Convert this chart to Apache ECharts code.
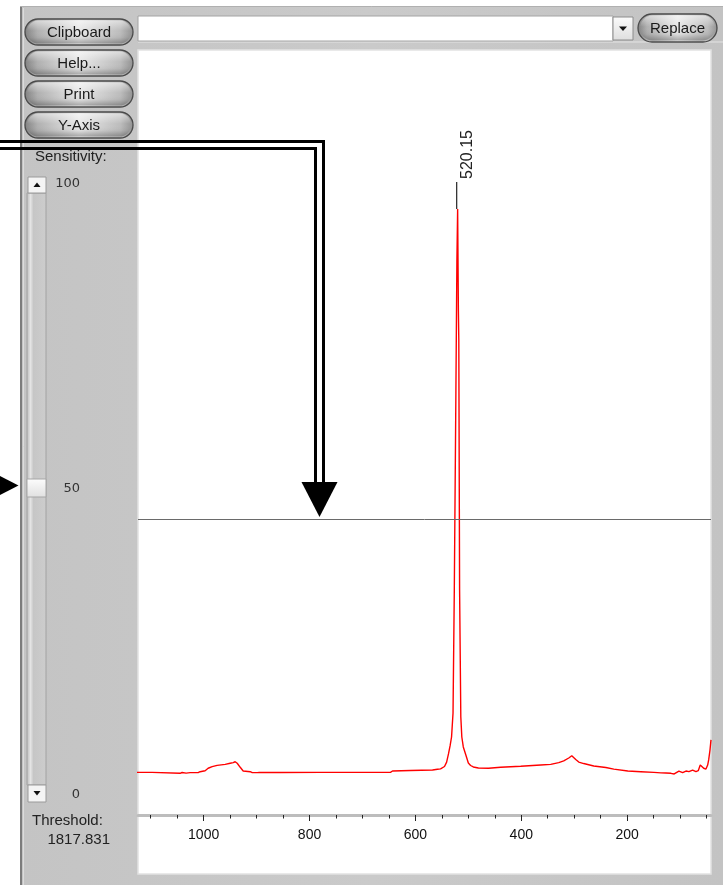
<!DOCTYPE html>
<html><head><meta charset="utf-8">
<script src="https://cdn.jsdelivr.net/npm/echarts@6/dist/echarts.min.js"></script>
<style>html,body{margin:0;padding:0;background:#fff;}#c{width:723px;height:885px;}</style>
</head><body><div id="c"></div><script>
// ---- data ----
const wavenumber = [1130,1097.4,1095.6,1044.5,1040.7,1037,1033.1,1025.5,1010.4,1006.6,997.2,991.5,983.9,974.5,959.3,949.9,944.2,940.4,936.6,930.9,925.3,912.0,908.2,898.8,896.9,895.0,855.3,779.6,703.9,647.1,643.3,609.3,567.6,558.2,552.5,545,541,537.5,534.5,531.7,528.9,526.5,523.5,521.6,520.2,518.8,518.0,516.5,514.2,512.3,509.5,504.7,500,495.7,490.6,481,461.7,439.0,401.1,363.3,344.4,329.2,319.8,310.3,304.6,300.9,297.1,291.4,282.0,263.0,240.3,225.2,198.7,174.1,149.5,136.2,126.8,117.3,111.1,102.2,95.2,88.9,83.3,76.3,70.0,65.7,61.9,58.7,55.4,51.1,47.9,46.0,43.5,41.6];
const intensity = [262,262,256,256,261,256,257,260,260,266,272,287,297,305,311,318,322,327,318,293,270,266,260,260,268,261,261,262,262,262,270,273,276,281,283,298,325,375,424,479,626,1382,2592,3400,3722,3100,2917,1382,602,479,418,368,319,304,295,289,287,293,299,307,311,322,332,350,364,359,341,325,316,301,292,282,270,266,262,259,258,256,252,270,260,270,266,276,266,272,307,318,287,282,307,338,399,461];
const majorTicks = [200,400,600,800,1000];
const minorTicks = [50,100,150,250,300,350,450,500,550,650,700,750,850,900,950,1050,1100];
const peakPosition = 520.15;
const peakIntensity = 3722;
const peakLabel = '520.15';
const threshold = 1817.831;
const thresholdText = '1817.831';
const buttonLabels = ['Clipboard','Help...','Print','Y-Axis'];
const sliderLabels = ['100','50','0'];
const xMin = 41.6, xMax = 1124;

const FONT = '"Liberation Sans", Arial, sans-serif';
const G = echarts.graphic;

function txt(text, x, y, size, align, color, family, z){
  return {type:'text', z: z||3, style:{text, x, y, font: size+'px '+(family||FONT), fill: color||'#1a1a1a',
    align: align||'center', verticalAlign:'middle', textAlign: align||'center', textVerticalAlign:'middle'}};
}
function button(x,y,w,h,label){
  return [
    {type:'rect', z:1, shape:{x,y,width:w,height:h,r:h/2}, style:{
      fill: new G.LinearGradient(0,0,1,0,[{offset:0,color:'#808080'},{offset:0.12,color:'#b0b0b0'},{offset:0.5,color:'#e8e8e8'},{offset:0.88,color:'#bcbcbc'},{offset:1,color:'#909090'}]),
      stroke:'#4a4a4a', lineWidth:1.3}},
    {type:'rect', z:2, shape:{x:x+2,y:y+1.5,width:w-4,height:h-3,r:(h-3)/2}, style:{
      fill: new G.LinearGradient(0,0,0,1,[{offset:0,color:'rgba(255,255,255,0.5)'},{offset:0.45,color:'rgba(255,255,255,0)'},{offset:0.75,color:'rgba(0,0,0,0.05)'},{offset:1,color:'rgba(0,0,0,0.28)'}])}},
    txt(label, x+w/2, y+h/2+0.5, 15, 'center', '#1a1a1a')
  ];
}

const chrome = [];
chrome.push({type:'rect', z:-10, shape:{x:0,y:0,width:723,height:885}, style:{fill:'#fff'}});
chrome.push({type:'rect', z:-9, shape:{x:20,y:6,width:703,height:879}, style:{
  fill: new G.LinearGradient(0,0,1,0,[{offset:0,color:'#c4c4c4'},{offset:0.5,color:'#cacaca'},{offset:1,color:'#c3c3c3'}])}});
chrome.push({type:'line', z:-8, shape:{x1:21,y1:6,x2:21,y2:885}, style:{stroke:'#7c7c7c', lineWidth:2}});
chrome.push({type:'line', z:-8, shape:{x1:23.5,y1:8,x2:23.5,y2:885}, style:{stroke:'#dcdcdc', lineWidth:1}});
chrome.push({type:'line', z:-8, shape:{x1:20,y1:6.5,x2:723,y2:6.5}, style:{stroke:'#b0b0b0', lineWidth:1}});
// plot area
chrome.push({type:'rect', z:-7, shape:{x:138,y:50,width:573,height:824}, style:{fill:'#fff', stroke:'#e2e2e2', lineWidth:1.5}});
chrome.push({type:'line', z:-7, shape:{x1:138,y1:42,x2:723,y2:42}, style:{stroke:'#e4e4e4', lineWidth:1}});
// combobox
chrome.push({type:'rect', z:-7, shape:{x:138,y:16,width:475,height:25}, style:{fill:'#fff', stroke:'#a4a4a4', lineWidth:1}});
chrome.push({type:'rect', z:-6, shape:{x:613,y:17,width:20,height:23}, style:{
  fill: new G.LinearGradient(0,0,0,1,[{offset:0,color:'#fbfbfb'},{offset:1,color:'#dedede'}]), stroke:'#8c8c8c', lineWidth:1}});
chrome.push({type:'polygon', z:-5, shape:{points:[[619,26.5],[627,26.5],[623,31]]}, style:{fill:'#111'}});
// Replace
button(638,14,79,28,'Replace').forEach(e=>chrome.push(e));
// left buttons
buttonLabels.forEach((b,i)=>button(25,19+31*i,108,26,b).forEach(e=>chrome.push(e)));
chrome.push(txt('Sensitivity:', 35, 157, 15, 'left', '#222'));
// slider
chrome.push({type:'rect', z:1, shape:{x:27,y:193,width:19,height:592}, style:{
  fill: new G.LinearGradient(0,0,1,0,[{offset:0,color:'#b8b8b8'},{offset:0.2,color:'#e4e4e4'},{offset:0.35,color:'#c6c6c6'},{offset:1,color:'#cdcdcd'}]), stroke:'#a2a2a2', lineWidth:1}});
chrome.push({type:'rect', z:2, shape:{x:28,y:177,width:18,height:16}, style:{fill:'#f4f4f4', stroke:'#9a9a9a', lineWidth:1}});
chrome.push({type:'polygon', z:3, shape:{points:[[33.5,187],[40.5,187],[37,182.5]]}, style:{fill:'#111'}});
chrome.push({type:'rect', z:2, shape:{x:28,y:785,width:18,height:17}, style:{fill:'#f4f4f4', stroke:'#9a9a9a', lineWidth:1}});
chrome.push({type:'polygon', z:3, shape:{points:[[33.5,791],[40.5,791],[37,795.5]]}, style:{fill:'#111'}});
chrome.push({type:'rect', z:2, shape:{x:27,y:479,width:19,height:18}, style:{
  fill: new G.LinearGradient(0,0,0,1,[{offset:0,color:'#fdfdfd'},{offset:1,color:'#e0e0e0'}]), stroke:'#a6a6a6', lineWidth:1}});
const sliderY = [184, 489, 795];
sliderLabels.forEach((s,i)=>chrome.push(txt(s, 80, sliderY[i], 13, 'right', '#333', '"DejaVu Sans", sans-serif')));
chrome.push(txt('Threshold:', 32, 821, 15, 'left', '#222'));
chrome.push(txt(thresholdText, 110, 840, 15, 'right', '#222'));
// annotation arrows
chrome.push({type:'polyline', z:100, shape:{points:[[-5,141.5],[323.5,141.5],[323.5,484]]}, style:{stroke:'#000', lineWidth:3, fill:null}});
chrome.push({type:'polyline', z:100, shape:{points:[[-5,148.5],[315.5,148.5],[315.5,484]]}, style:{stroke:'#000', lineWidth:3, fill:null}});
chrome.push({type:'polygon', z:100, shape:{points:[[301.5,482],[337.5,482],[319.5,517]]}, style:{fill:'#000'}});
chrome.push({type:'polygon', z:100, shape:{points:[[-6,473],[18.5,485.5],[-6,498]]}, style:{fill:'#000'}});

const chart = echarts.init(document.getElementById('c'), null, {renderer:'canvas'});
chart.setOption({
  animation:false,
  backgroundColor:'transparent',
  graphic:{elements:chrome},
  grid:{left:138, right:12, top:66, bottom:70, containLabel:false},
  xAxis:[
    {type:'value', inverse:true, min:xMin, max:xMax, position:'bottom',
     axisLine:{show:true, onZero:false, lineStyle:{color:'#bdbdbd', width:3}},
     axisTick:{show:true, customValues:majorTicks, length:6, lineStyle:{color:'#222', width:1}},
     axisLabel:{show:true, customValues:majorTicks, formatter:(v)=>String(v), fontSize:14, color:'#111', margin:13, fontFamily:FONT},
     splitLine:{show:false}},
    {type:'value', inverse:true, min:xMin, max:xMax, position:'bottom',
     axisLine:{show:false, onZero:false},
     axisTick:{show:true, customValues:minorTicks, length:3.5, lineStyle:{color:'#222', width:1}},
     axisLabel:{show:false}, splitLine:{show:false}}
  ],
  yAxis:{type:'value', min:0, max:4600, show:false, splitLine:{show:false}},
  series:[{
    type:'line', xAxisIndex:0, yAxisIndex:0, symbol:'none', silent:true,
    lineStyle:{color:'#ff0000', width:1.4},
    data: wavenumber.map((w,i)=>[w, intensity[i]]),
    markLine:{silent:true, symbol:['none','none'], label:{show:false},
      lineStyle:{color:'#6a6a6a', width:1, type:'solid'}, data:[{yAxis:threshold}]},
    markPoint:{silent:true, data:[{
      coord:[peakPosition, peakIntensity], symbol:'rect', symbolSize:[1.3,27], symbolOffset:[-1,-13.5],
      itemStyle:{color:'#333'},
      label:{show:true, formatter:peakLabel, position:'top', distance:2, rotate:90, align:'left', verticalAlign:'middle',
        offset:[1,11], fontSize:16, color:'#222', fontFamily:FONT}
    }]}
  }]
});
</script></body></html>
